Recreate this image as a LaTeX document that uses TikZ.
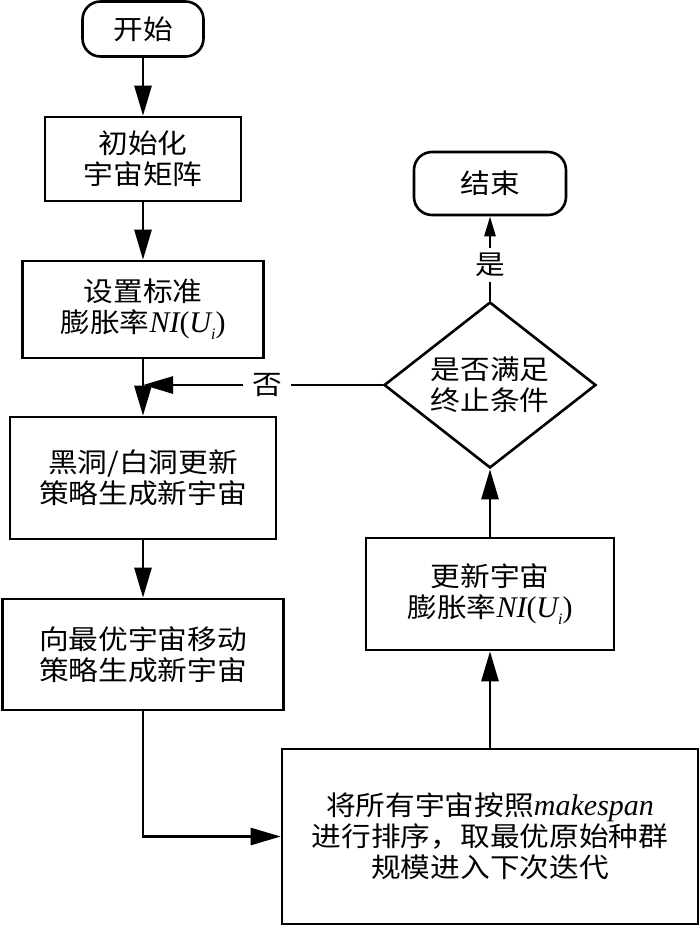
\documentclass[tikz,border=0pt]{standalone}
\usepackage{fontspec}
\setmainfont{Liberation Serif}
\newfontfamily\cjk{Noto Sans CJK SC}[FakeStretch=1.1]
\usetikzlibrary{arrows.meta,shapes.geometric}
\newcommand\lat{\rmfamily\itshape\fontsize{30}{31}\selectfont}
\newcommand\myNIU{{\lat NI}{\rmfamily\fontsize{30}{31}\selectfont(}{\lat U}\raisebox{-7pt}{\rmfamily\itshape\fontsize{16}{16}\selectfont i}{\rmfamily\fontsize{30}{31}\selectfont)}}
\begin{document}
\begin{tikzpicture}[x=1pt,y=-1pt,
  base/.style={draw=black,line width=2.6pt,align=center,inner sep=0pt,
    font=\cjk\fontsize{27}{31}\selectfont},
  proc/.style={base,rectangle},
  term/.style={base,rectangle,rounded corners=18pt},
  decis/.style={base,diamond,aspect=1.28},
  lbl/.style={font=\cjk\fontsize{27}{31}\selectfont,inner xsep=9pt,inner ysep=5pt},
  conn/.style={line width=2.6pt},
  arr/.style={conn,-{Triangle[length=30pt,width=17pt]}},
  arrsmall/.style={conn,-{Triangle[length=20pt,width=11pt]}}]
\useasboundingbox (0,0) rectangle (700,929);
\node[term,minimum width=121pt,minimum height=55pt] (start) at (143,29) {开始};
\node[proc,minimum width=196pt,minimum height=84pt] (init) at (143,159) {初始化\\宇宙矩阵};
\node[proc,minimum width=241pt,minimum height=97pt] (setni) at (143,309.5) {设置标准\\膨胀率\myNIU};
\node[proc,minimum width=266pt,minimum height=122pt] (bh) at (143,478) {黑洞/白洞更新\\策略生成新宇宙};
\node[proc,minimum width=281pt,minimum height=111pt] (move) at (143,654.5) {向最优宇宙移动\\策略生成新宇宙};
\node[proc,minimum width=416pt,minimum height=175pt] (sort) at (490,836.5) {将所有宇宙按照{\lat makespan}\\进行排序，取最优原始种群\\规模进入下次迭代};
\node[proc,minimum width=248pt,minimum height=112pt] (upd) at (490,594) {更新宇宙\\膨胀率\myNIU};
\node[decis,minimum width=212pt,minimum height=166pt] (dec) at (490,385) {是否满足\\终止条件};
\node[term,minimum width=152pt,minimum height=63pt] (end) at (490,183.5) {结束};
\node[lbl] (yes) at (490,265) {是};
\node[lbl] (no) at (267,385) {否};
\coordinate (join) at (143,385);
\draw[arr] (start) -- (init);
\draw[arr] (init) -- (setni);
\draw[arr] (setni) -- (bh);
\draw[arr] (bh) -- (move);
\draw[arr] (move.south) |- (sort.west);
\draw[arr] (sort) -- (upd);
\draw[arr] (upd) -- (dec);
\draw[conn] (dec.north) -- (yes.south);
\draw[arrsmall] (yes.north) -- (end.south);
\draw[conn] (dec.west) -- (no.east);
\draw[arr] (no.west) -- (join);
\end{tikzpicture}
\end{document}
